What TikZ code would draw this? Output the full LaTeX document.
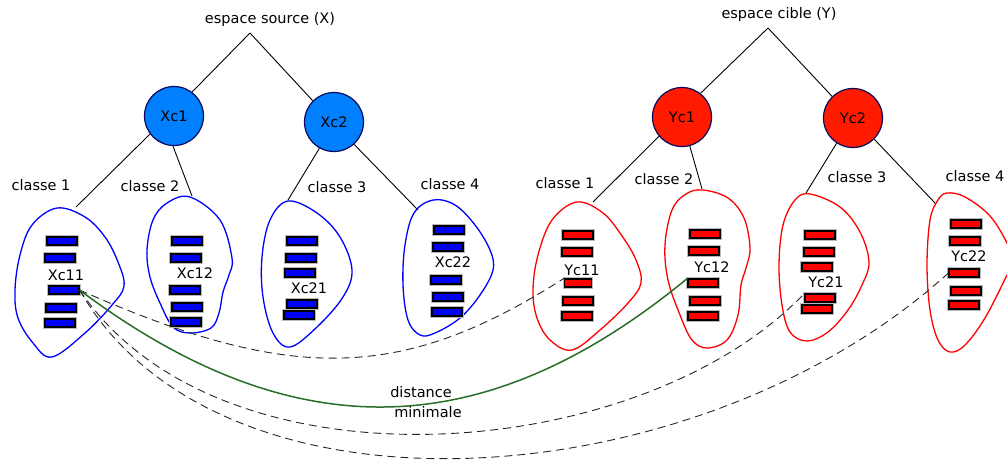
\documentclass[tikz,border=0pt]{standalone}
\usepackage{fontspec}
\setmainfont{DejaVu Sans}
\definecolor{blobblue}{RGB}{0,0,255}
\definecolor{rectblue}{RGB}{0,0,245}
\definecolor{circblue}{RGB}{0,128,255}
\definecolor{circred}{RGB}{255,26,0}
\definecolor{blobred}{RGB}{255,0,0}
\definecolor{rectred}{RGB}{255,0,0}
\definecolor{navyline}{RGB}{10,10,90}
\definecolor{bestgreen}{RGB}{40,110,40}
\begin{document}
\begin{tikzpicture}[x=1pt,y=-1pt,
  font=\fontsize{14.5}{17}\selectfont,
  lbl/.style={inner sep=0pt, text=black},
  catnode/.style={circle, minimum size=59pt, inner sep=0pt, line width=1.2pt, draw=navyline},
  brick/.style={rectangle, draw=black, line width=1.2pt, minimum width=30pt, minimum height=8pt, inner sep=0pt, preaction={draw=gray!55, line width=3.2pt}},
  bb/.style={brick, fill=rectblue},
  rb/.style={brick, fill=rectred},
  tree/.style={draw=black, line width=0.9pt},
  bblob/.style={draw=blobblue, line width=1.3pt},
  rblob/.style={draw=blobred, line width=1.3pt},
  link/.style={draw=black!85, line width=0.9pt, dash pattern=on 8pt off 5pt},
  best/.style={draw=bestgreen, line width=1.5pt}]
\useasboundingbox (0,0) rectangle (1007,459);
\clip (0,0) rectangle (1007,459);

% ---------- top labels and tree ----------
\node[lbl] (srclbl) at (270,20) {espace source (X)};
\node[lbl] (tgtlbl) at (779,14) {espace cible (Y)};
\coordinate (srcapex) at (250,33);
\coordinate (tgtapex) at (768,28);

\node[catnode, fill=circblue] (xc1) at (174,116) {Xc1};
\node[catnode, fill=circblue] (xc2) at (334,122) {Xc2};
\node[catnode, fill=circred] (yc1) at (682,117) {Yc1};
\node[catnode, fill=circred] (yc2) at (853,118) {Yc2};

\coordinate (b1) at (76,207);
\coordinate (b2) at (192,196);
\coordinate (b3) at (288,200);
\coordinate (b4) at (418,210);
\coordinate (r1) at (593,202);
\coordinate (r2) at (702,189);
\coordinate (r3) at (806,193);
\coordinate (r4) at (935,203);

\draw[tree] (srcapex) -- (xc1.53);
\draw[tree] (srcapex) -- (xc2.135);
\draw[tree] (xc1.217) -- (b1);
\draw[tree] (xc1.268) -- (b2);
\draw[tree] (xc2.241) -- (b3);
\draw[tree] (xc2.312) -- (b4);
\draw[tree] (tgtapex) -- (yc1.52);
\draw[tree] (tgtapex) -- (yc2.134);
\draw[tree] (yc1.220) -- (r1);
\draw[tree] (yc1.285) -- (r2);
\draw[tree] (yc2.237) -- (r3);
\draw[tree] (yc2.315) -- (r4);

% class labels
\node[lbl] (c1l) at (41,185) {classe 1};
\node[lbl] (c2l) at (150,186) {classe 2};
\node[lbl] (c3l) at (337,187) {classe 3};
\node[lbl] (c4l) at (450,184) {classe 4};
\node[lbl] (c1r) at (565,183) {classe 1};
\node[lbl] (c2r) at (664,179) {classe 2};
\node[lbl] (c3r) at (857,177) {classe 3};
\node[lbl] (c4r) at (975,176) {classe 4};

% ---------- blobs ----------
\draw[bblob] plot[smooth cycle, tension=0.6] coordinates {(57,208) (85,217) (105,237) (118,262) (124,286) (112,305) (85,333) (52,357) (33,343) (18,318) (15,290) (20,255) (32,225)};
\draw[bblob] plot[smooth cycle, tension=0.6] coordinates {(190,197) (220,220) (232,258) (229,275) (223,292) (219,313) (211,328) (190,333) (173,327) (160,303) (150,277) (147,250) (153,220) (167,203)};
\draw[bblob] plot[smooth cycle, tension=0.6] coordinates {(288,201) (317,213) (340,237) (352,270) (343,297) (317,327) (290,347) (273,333) (263,297) (262,257) (270,220)};
\draw[bblob] plot[smooth cycle, tension=0.6] coordinates {(433,200) (455,205) (475,225) (490,250) (493,270) (480,295) (460,318) (435,333) (420,335) (408,320) (403,285) (405,245) (414,213)};

\draw[rblob] plot[smooth cycle, tension=0.6] coordinates {(577,202) (603,213) (622,236) (636,260) (641,283) (628,303) (600,330) (572,350) (550,340) (537,318) (533,290) (538,255) (552,220)};
\draw[rblob] plot[smooth cycle, tension=0.6] coordinates {(703,190) (728,198) (744,218) (750,248) (746,268) (741,285) (738,315) (727,340) (707,348) (692,340) (680,315) (668,280) (665,245) (672,210) (686,194)};
\draw[rblob] plot[smooth cycle, tension=0.6] coordinates {(810,194) (840,207) (860,232) (869,262) (862,285) (848,310) (828,332) (807,341) (790,332) (782,305) (779,265) (783,225) (795,200)};
\draw[rblob] plot[smooth cycle, tension=0.6] coordinates {(947,193) (965,197) (990,216) (1008,245) (1013,262) (1007,275) (985,318) (965,345) (950,352) (938,340) (930,310) (927,265) (930,220) (938,200)};

% ---------- bricks ----------
\node[bb] (x11a) at (62,241) {};
\node[bb] (x11b) at (60,258) {};
\node[bb] (x11c) at (64,290) {};
\node[bb] (x11d) at (61,308) {};
\node[bb] (x11e) at (60,323) {};
\node[bb] (x12a) at (187,241) {};
\node[bb] (x12b) at (186,258) {};
\node[bb] (x12c) at (185,290) {};
\node[bb] (x12d) at (187,307) {};
\node[bb] (x12e) at (186,322) {};
\node[bb] (x21a) at (302,241) {};
\node[bb] (x21b) at (301,258) {};
\node[bb] (x21c) at (300,273) {};
\node[bb] (x21d) at (302,304) {};
\node[bb] (x21e) at (299,315) {};
\node[bb] (x22a) at (449,230) {};
\node[bb] (x22b) at (448,247) {};
\node[bb] (x22c) at (446,280) {};
\node[bb] (x22d) at (448,297) {};
\node[bb] (x22e) at (447,312) {};

\node[rb] (y11a) at (578,235) {};
\node[rb] (y11b) at (577,252) {};
\node[rb, minimum width=27pt] (y11c) at (578,283) {};
\node[rb] (y11d) at (578,301) {};
\node[rb] (y11e) at (577,316) {};
\node[rb] (y12a) at (705,234) {};
\node[rb] (y12b) at (704,251) {};
\node[rb] (y12c) at (703,283) {};
\node[rb] (y12d) at (705,301) {};
\node[rb] (y12e) at (703,316) {};
\node[rb] (y21a) at (820,235) {};
\node[rb] (y21b) at (819,252) {};
\node[rb] (y21c) at (817,267) {};
\node[rb] (y21d) at (820,298) {};
\node[rb] (y21e) at (817,309) {};
\node[rb] (y22a) at (966,224) {};
\node[rb] (y22b) at (965,241) {};
\node[rb] (y22c) at (964,273) {};
\node[rb] (y22d) at (966,291) {};
\node[rb] (y22e) at (964,305) {};

% group labels
\node[lbl] (lx11) at (66,275) {Xc11};
\node[lbl] (lx12) at (195,273) {Xc12};
\node[lbl] (lx21) at (309,288) {Xc21};
\node[lbl] (lx22) at (453,262) {Xc22};
\node[lbl] (ly11) at (582,270) {Yc11};
\node[lbl] (ly12) at (712,267) {Yc12};
\node[lbl] (ly21) at (826,282) {Yc21};
\node[lbl] (ly22) at (969,256) {Yc22};

% ---------- connectors ----------
\draw[link] (x11c.east) .. controls +(211,93) and +(-163,104) .. (y11c.north west);
\draw[link] (x11c.east) .. controls +(140,208) and +(-164,172) .. (y21d.north west);
\draw[link] (x11c.east) .. controls +(140,245) and +(-249,226) .. (y22c.west);
\draw[best] (x11c.east) .. controls +(220,165) and +(-197,162) .. (y12c.north west);

\node[lbl] (dist1) at (421,392) {distance};
\node[lbl] (dist2) at (428,412) {minimale};
\end{tikzpicture}
\end{document}
